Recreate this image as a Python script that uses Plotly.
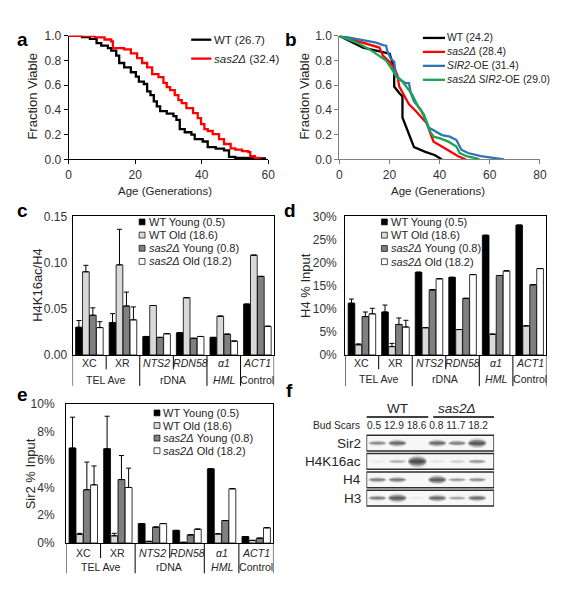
import plotly.graph_objects as go

# page body has an 8px margin, so the figure is 16px smaller than the window
OFF = 8
W, H = 568 - 2 * OFF, 600 - 2 * OFF
def fx(p):
    return (p - OFF) / W
def fy(p):
    return 1 - (p - OFF) / H

FONT = "Liberation Sans, Arial, sans-serif"
TXT = "#262626"

# ---------------- data ----------------
# panel a (replicative lifespan)
a_wt_age = [0, 4, 6.4, 8.4, 9.8, 11.8, 12.8, 14.3, 15.2, 16.7, 18.7, 20.2, 21.1, 22.6, 23.6, 24.6,
            25.6, 26.5, 27.5, 29.5, 31.5, 32.4, 33.4, 34.9, 36.9, 37.9, 40.3, 41.8, 44.2, 46.7,
            48.2, 50.1, 55, 59]
a_wt_frac = [1.0, 0.99, 0.975, 0.94, 0.92, 0.90, 0.88, 0.84, 0.78, 0.745, 0.705, 0.67, 0.63, 0.61,
             0.55, 0.52, 0.47, 0.43, 0.39, 0.37, 0.35, 0.32, 0.245, 0.22, 0.20, 0.165, 0.145, 0.10,
             0.087, 0.074, 0.021, 0.013, 0.008, 0.0]
a_sas_age = [0, 7.9, 10.8, 12.8, 13.3, 16.7, 18.7, 20.6, 22.1, 23.6, 25.1, 27, 28.5, 29.5, 30.5,
             31.9, 33, 34, 35.4, 37.4, 38.8, 39.8, 40.8, 41.8, 43.3, 45.2, 46.7, 48.7, 50.1, 52.1,
             54, 54.6, 56, 57.5]
a_sas_frac = [1.0, 0.987, 0.97, 0.955, 0.90, 0.89, 0.857, 0.82, 0.78, 0.745, 0.69, 0.665, 0.62,
              0.585, 0.56, 0.52, 0.48, 0.455, 0.415, 0.375, 0.335, 0.285, 0.245, 0.23, 0.205,
              0.165, 0.125, 0.09, 0.08, 0.068, 0.06, 0.026, 0.013, 0.0]
a_names = ["WT (26.7)", "<i>sas2Δ</i> (32.4)"]

# panel b
b_wt_age = [0, 9.5, 14.75, 20.1, 21.9, 21.9, 23.9, 25.2, 25.2, 29.8, 34.3, 38.2, 40.9]
b_wt_frac = [1.0, 0.905, 0.88, 0.855, 0.736, 0.59, 0.537, 0.51, 0.339, 0.10, 0.061, 0.034, 0.0]
b_sas_age = [0, 12.1, 16, 17.4, 20, 22, 23.2, 23.9, 25.8, 27.8, 30.4, 33, 35, 36.3, 37.6, 40.9,
             44.1, 47.4, 50.5]
b_sas_frac = [1.0, 0.93, 0.905, 0.84, 0.79, 0.735, 0.68, 0.59, 0.525, 0.446, 0.394, 0.34, 0.29,
              0.21, 0.144, 0.105, 0.066, 0.026, 0.0]
b_oe_age = [0, 8.2, 14.75, 17.4, 18.7, 19.3, 20.6, 21.9, 22.6, 24.5, 26.5, 27.8, 28.5, 29.8, 32.4,
            33.7, 35.4, 37.6, 38.9, 40.9, 44.1, 46.7, 48.7, 51.3, 56.5, 60.4, 65.7]
b_oe_frac = [1.0, 0.97, 0.945, 0.924, 0.92, 0.866, 0.814, 0.79, 0.68, 0.643, 0.617, 0.617, 0.537,
             0.47, 0.405, 0.352, 0.26, 0.236, 0.223, 0.197, 0.184, 0.157, 0.079, 0.052, 0.026,
             0.013, 0.0]
b_soe_age = [0, 6.9, 12.1, 16, 18.7, 21.3, 22.6, 25.2, 27.2, 29.1, 30.4, 31.7, 33.7, 35, 36.3,
             37.6, 40.2, 43.5, 46.7, 48, 50.7, 53.9, 55.9]
b_soe_frac = [1.0, 0.945, 0.89, 0.84, 0.80, 0.72, 0.67, 0.63, 0.577, 0.525, 0.47, 0.42, 0.367,
              0.29, 0.223, 0.184, 0.17, 0.144, 0.105, 0.052, 0.026, 0.013, 0.0]
b_names = ["WT (24.2)", "<i>sas2Δ</i> (28.4)", "<i>SIR2</i>-OE (31.4)",
           "<i>sas2Δ SIR2</i>-OE (29.0)"]

# bar panels
loci = ["XC", "XR", "<i>NTS2</i>", "<i>RDN58</i>", "<i>α1</i>", "<i>ACT1</i>"]
groups = [("TEL Ave", 2), ("rDNA", 2), ("<i>HML</i>", 1), ("Control", 1)]
series_names = ["WT Young (0.5)", "WT Old (18.6)", "<i>sas2Δ</i> Young (0.8)",
                "<i>sas2Δ</i> Old (18.2)"]

# c: H4K16ac/H4
c_wt_young = [0.030, 0.035, 0.020, 0.024, 0.019, 0.055]
c_wt_old = [0.090, 0.0975, 0.0535, 0.062, 0.042, 0.108]
c_sas_young = [0.043, 0.053, 0.019, 0.018, 0.0225, 0.085]
c_sas_old = [0.0296, 0.038, 0.023, 0.020, 0.015, 0.031]
c_err_wt_young = [0.0073, 0.0097, None, None, None, None]
c_err_wt_old = [0.007, 0.0385, None, None, None, None]
c_err_sas_young = [0.008, 0.015, None, None, None, None]
c_err_sas_old = [0.0064, 0.014, None, None, None, None]

# d: H4 % input
d_wt_young = [11.2, 9.3, 17.9, 16.8, 25.9, 28.1]
d_wt_old = [2.2, 1.8, 5.9, 5.5, 4.5, 6.3]
d_sas_young = [8.3, 6.6, 14.1, 12.25, 17.2, 15.2]
d_sas_old = [8.9, 6.05, 16.5, 17.4, 18.2, 18.7]
d_err_wt_young = [0.9, 1.5, None, None, None, None]
d_err_wt_old = [0.2, 0.7, None, None, None, None]
d_err_sas_young = [1.0, 1.4, None, None, None, None]
d_err_sas_old = [1.2, 1.45, None, None, None, None]

# e: Sir2 % input
e_wt_young = [6.84, 6.79, 1.40, 0.91, 5.34, 0.47]
e_wt_old = [0.63, 0.52, 0.12, 0.05, 0.66, 0.19]
e_sas_young = [3.84, 4.57, 1.15, 0.59, 1.62, 0.35]
e_sas_old = [4.19, 4.0, 1.4, 1.0, 3.91, 1.1]
e_err_wt_young = [2.22, 2.34, None, None, None, None]
e_err_wt_old = [0.07, 0.18, None, None, None, None]
e_err_sas_young = [1.99, 1.73, None, None, None, None]
e_err_sas_old = [1.36, 1.39, None, None, None, None]

# f: western blot
blot_strains = ["WT", "<i>sas2Δ</i>"]
bud_scars = ["0.5", "12.9", "18.6", "0.8", "11.7", "18.2"]
blot_rows = ["Sir2", "H4K16ac", "H4", "H3"]
band_sir2 = [0.55, 0.75, 0.0, 0.75, 0.6, 0.9]
band_h4k16ac = [0.06, 0.35, 1.0, 0.08, 0.18, 0.45]
band_h4 = [0.6, 0.65, 0.0, 0.85, 0.45, 0.5]
band_h3 = [0.6, 0.85, 0.05, 0.75, 0.4, 0.7]

# ---------------- figure ----------------
fig = go.Figure()
shapes = []
annotations = []

def text(x, y, s, size=11, xanchor="left", yanchor="middle", angle=0, color=TXT,
         xref="paper", yref="paper", bold=False):
    annotations.append(dict(x=x, y=y, xref=xref, yref=yref, text=("<b>%s</b>" % s) if bold else s,
                            showarrow=False, xanchor=xanchor, yanchor=yanchor, textangle=angle,
                            font=dict(family=FONT, size=size, color=color)))

# panel a
a_colors = ["#000000", "#ff0000"]
for xs, ys, col in [(a_wt_age, a_wt_frac, a_colors[0]), (a_sas_age, a_sas_frac, a_colors[1])]:
    fig.add_trace(go.Scatter(x=xs, y=ys, mode="lines", line=dict(color=col, width=2.3, shape="hv"),
                             xaxis="x", yaxis="y", cliponaxis=False, showlegend=False))
for i, (nm, col) in enumerate(zip(a_names, a_colors)):
    yy = 33.3 + i * 19.4
    shapes.append(dict(type="line", xref="paper", yref="paper", x0=fx(191.5), x1=fx(212),
                       y0=fy(yy), y1=fy(yy), line=dict(color=col, width=2.3)))
    text(fx(213), fy(yy), nm, size=11.5)

# panel b
b_colors = ["#000000", "#ff0000", "#2e75b6", "#1ea34f"]
for xs, ys, col in [(b_wt_age, b_wt_frac, b_colors[0]), (b_sas_age, b_sas_frac, b_colors[1]),
                    (b_oe_age, b_oe_frac, b_colors[2]), (b_soe_age, b_soe_frac, b_colors[3])]:
    fig.add_trace(go.Scatter(x=xs, y=ys, mode="lines", line=dict(color=col, width=2.3),
                             xaxis="x2", yaxis="y2", cliponaxis=False, showlegend=False))
for i, (nm, col) in enumerate(zip(b_names, b_colors)):
    yy = 31.5 + i * 14.3
    shapes.append(dict(type="line", xref="paper", yref="paper", x0=fx(427.5), x1=fx(450),
                       y0=fy(yy), y1=fy(yy), line=dict(color=col, width=2.3)))
    text(fx(450.5), fy(yy), nm, size=10.4)

# bar panels
bar_colors = ["#000000", "#d9d9d9", "#808080", "#ffffff"]
xpos = list(range(len(loci)))

def bar_panel(ax, vals, errs, legend_x, legend_y0, legend_dy, bottom, row1, row2, short_end, full_end):
    for v, e, col in zip(vals, errs, bar_colors):
        minus = [0 if ee is not None else None for ee in e]
        fig.add_trace(go.Bar(x=xpos, y=v, marker=dict(color=col, line=dict(color="#000000", width=0.8)),
                             error_y=dict(type="data", array=e, arrayminus=minus, symmetric=False,
                                          color="#000000", thickness=1, width=2.5),
                             xaxis="x" + ax, yaxis="y" + ax, showlegend=False))
    for i, (nm, col) in enumerate(zip(series_names, bar_colors)):
        yy = legend_y0 + i * legend_dy
        shapes.append(dict(type="rect", xref="paper", yref="paper", x0=fx(legend_x - 3), x1=fx(legend_x + 3),
                           y0=fy(yy - 3), y1=fy(yy + 3), fillcolor=col, line=dict(color="#000000", width=0.7)))
        text(fx(legend_x + 4.5), fy(yy), nm, size=11)
    # multi-level category axis
    for i, lab in enumerate(loci):
        text(i, fy(row1), lab, size=10.6, xanchor="center", xref="x" + ax)
    start = 0
    full = [-0.5]
    for lab, n in groups:
        text(start + (n - 1) / 2, fy(row2), lab, size=10.6, xanchor="center", xref="x" + ax)
        for k in range(1, n):
            shapes.append(dict(type="line", xref="x" + ax, yref="paper", x0=start + k - 0.5, x1=start + k - 0.5,
                               y0=fy(bottom), y1=fy(short_end), line=dict(color="#000000", width=1)))
        start += n
        full.append(start - 0.5)
    for xv in full:
        shapes.append(dict(type="line", xref="x" + ax, yref="paper", x0=xv, x1=xv,
                           y0=fy(bottom), y1=fy(full_end), line=dict(color="#000000", width=1)))

bar_panel("3", [c_wt_young, c_wt_old, c_sas_young, c_sas_old],
          [c_err_wt_young, c_err_wt_old, c_err_sas_young, c_err_sas_old],
          141.5, 220, 13.5, 356.3, 365, 381.5, 371, 388)
bar_panel("4", [d_wt_young, d_wt_old, d_sas_young, d_sas_old],
          [d_err_wt_young, d_err_wt_old, d_err_sas_young, d_err_sas_old],
          388.3, 220, 13.6, 356.3, 365, 381, 371, 388.3)
bar_panel("5", [e_wt_young, e_wt_old, e_sas_young, e_sas_old],
          [e_err_wt_young, e_err_wt_old, e_err_sas_young, e_err_sas_old],
          156.7, 415.7, 12.9, 549, 559, 573.3, 564.3, 580)

# panel f : blot
bands = [band_sir2, band_h4k16ac, band_h4, band_h3]
for r, name in enumerate(blot_rows):
    shapes.append(dict(type="rect", xref="x6", yref="y6", x0=-0.55, x1=5.85, y0=r - 0.43, y1=r + 0.43,
                       fillcolor="#f7f7f7", line=dict(color="#2e2e2e", width=1.5)))
    text(fx(367), r, name, size=13.5, xanchor="right", yref="y6")
    for lane, inten in enumerate(bands[r]):
        if inten <= 0:
            continue
        w = 0.8 + 0.1 * inten
        h = 0.16 + 0.3 * inten ** 3
        for sw, sh, op in [(1.08, 1.5, 0.12), (1.0, 1.0, 0.3), (0.85, 0.5, 0.4)]:
            shapes.append(dict(type="circle", xref="x6", yref="y6",
                               x0=lane - w * sw / 2, x1=lane + w * sw / 2,
                               y0=r - h * sh / 2, y1=r + h * sh / 2,
                               fillcolor="#1a1a1a", opacity=min(1, op * inten * 1.3),
                               line=dict(width=0)))
text(fx(432), fy(429), " ".join(bud_scars), size=10.2, xanchor="center")
text(fx(339), fy(429), "Bud Scars", size=10.2, xanchor="center")
text(1, fy(411.5), blot_strains[0], size=13.5, xanchor="center", xref="x6")
text(4, fy(411.5), blot_strains[1], size=13.5, xanchor="center", xref="x6")
shapes.append(dict(type="line", xref="x6", yref="paper", x0=-0.55, x1=2.55, y0=fy(420), y1=fy(420),
                   line=dict(color="#000000", width=1.5)))
shapes.append(dict(type="line", xref="x6", yref="paper", x0=2.8, x1=5.85, y0=fy(420), y1=fy(420),
                   line=dict(color="#000000", width=1.5)))

# axis titles and panel letters
text(fx(30), fy(92), "Fraction Viable", size=13, xanchor="center", angle=-90)
text(fx(165), fy(188), "Age (Generations)", size=11.5, xanchor="center")
text(fx(307), fy(92), "Fraction Viable", size=13, xanchor="center", angle=-90)
text(fx(443), fy(188), "Age (Generations)", size=11.5, xanchor="center")
text(fx(35), fy(285), "H4K16ac/H4", size=13, xanchor="center", angle=-90)
text(fx(308), fy(285), "H4 % Input", size=13, xanchor="center", angle=-90)
text(fx(28), fy(478), "Sir2 % Input", size=13, xanchor="center", angle=-90)
for lt, x, y in [("a", 20, 33), ("b", 293, 33), ("c", 20, 208), ("d", 292, 208), ("e", 20, 397), ("f", 292, 393)]:
    text(fx(x), fy(y), lt, size=19, xanchor="center", color="#000000", bold=True)

tickfont = dict(family=FONT, size=12, color="#333333")

def line_axes(xdom, ydom, xr, dx, col):
    xa = dict(domain=xdom, range=xr, dtick=dx, showgrid=False, zeroline=False, showline=True,
              linecolor=col, linewidth=1, ticks="outside", ticklen=4, tickcolor=col, tickfont=tickfont,
              fixedrange=True)
    ya = dict(domain=ydom, range=[0, 1], dtick=0.2, tickformat=".1f", showgrid=False, zeroline=False,
              showline=True, linecolor=col, linewidth=1, ticks="outside", ticklen=4, tickcolor=col,
              tickfont=tickfont, fixedrange=True)
    return xa, ya

def bar_axes(xdom, ydom, yr, dy, fmt, suffix, standoff):
    xa = dict(domain=xdom, range=[-0.5, 5.5], showgrid=False, zeroline=False, showline=True, mirror=True,
              linecolor="#000000", linewidth=1, showticklabels=False, ticks="", fixedrange=True)
    ya = dict(domain=ydom, range=yr, dtick=dy, tickformat=fmt, ticksuffix=suffix, showgrid=False,
              zeroline=False, showline=True, mirror=True, linecolor="#000000", linewidth=1,
              ticks="", tickfont=tickfont, ticklabelstandoff=standoff, fixedrange=True)
    return xa, ya

xa1, ya1 = line_axes([fx(66.7), fx(270)], [fy(156), fy(29.3)], [0, 60], 20, "#000000")
xa2, ya2 = line_axes([fx(342.3), fx(546.7)], [fy(156), fy(29.3)], [0, 80], 20, "#7f7f7f")
xa3, ya3 = bar_axes([fx(70.7), fx(276)], [fy(356.3), fy(214.3)], [0, 0.15], 0.05, ".2f", "", 2)
xa4, ya4 = bar_axes([fx(348.3), fx(553.3)], [fy(356.3), fy(214.3)], [0, 30], 5, "d", "%", 5)
xa5, ya5 = bar_axes([fx(64), fx(275.3)], [fy(549), fy(406.7)], [0, 10], 2, "d", "%", 8)
xa6 = dict(domain=[fx(370), fx(500)], range=[-0.55, 5.85], visible=False, fixedrange=True)
ya6 = dict(domain=[fy(512.3), fy(437.3)], range=[3.5, -0.5], visible=False, fixedrange=True)

fig.update_layout(
    width=W, height=H, margin=dict(l=0, r=0, t=0, b=0),
    paper_bgcolor="#ffffff", plot_bgcolor="rgba(0,0,0,0)",
    barmode="group", bargap=0.17, bargroupgap=0.04,
    showlegend=False, font=dict(family=FONT, color=TXT),
    xaxis=dict(xa1, anchor="y"), yaxis=dict(ya1, anchor="x"),
    xaxis2=dict(xa2, anchor="y2"), yaxis2=dict(ya2, anchor="x2"),
    xaxis3=dict(xa3, anchor="y3"), yaxis3=dict(ya3, anchor="x3"),
    xaxis4=dict(xa4, anchor="y4"), yaxis4=dict(ya4, anchor="x4"),
    xaxis5=dict(xa5, anchor="y5"), yaxis5=dict(ya5, anchor="x5"),
    xaxis6=dict(xa6, anchor="y6"), yaxis6=dict(ya6, anchor="x6"),
    shapes=shapes, annotations=annotations,
)

fig.write_html("out.html")
